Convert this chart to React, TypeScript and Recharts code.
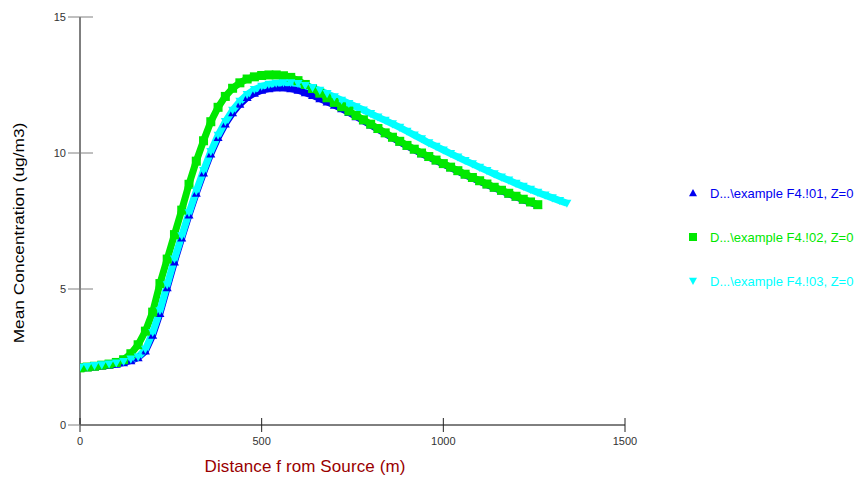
import { LineChart, Line, XAxis, YAxis } from 'recharts';

// distance from source (m), 20 m steps
const distances = [
  0, 20, 40, 60, 80, 100, 120, 140, 160, 180, 200, 220, 240, 260, 280, 300, 320, 340, 360, 380,
  400, 420, 440, 460, 480, 500, 520, 540, 560, 580, 600, 620, 640, 660, 680, 700, 720, 740, 760, 780,
  800, 820, 840, 860, 880, 900, 920, 940, 960, 980, 1000, 1020, 1040, 1060, 1080, 1100, 1120, 1140, 1160, 1180,
  1200, 1220, 1240, 1260, 1280, 1300, 1320, 1340,
];

const run01 = [
  2.08, 2.11, 2.14, 2.17, 2.2, 2.24, 2.29, 2.37, 2.48, 2.72, 3.3, 4.1, 5.05, 6.0, 6.88, 7.72, 8.52, 9.27, 9.97, 10.57,
  11.07, 11.48, 11.8, 12.04, 12.2, 12.31, 12.37, 12.4, 12.4, 12.37, 12.31, 12.22, 12.12, 12.0, 11.88, 11.76, 11.63, 11.49, 11.34, 11.19,
  11.03, 10.87, 10.72, 10.56, 10.41, 10.26, 10.12, 9.98, 9.85, 9.72, 9.59, 9.46, 9.33, 9.2, 9.08, 8.96, 8.84, 8.72, 8.61, 8.5,
  8.39, 8.28, 8.18, 8.08,
];

const run02 = [
  2.1, 2.13, 2.16, 2.2, 2.24, 2.3, 2.4, 2.62, 2.95, 3.45, 4.15, 5.2, 6.1, 7.0, 7.9, 8.85, 9.7, 10.45, 11.15, 11.68,
  12.08, 12.38, 12.58, 12.72, 12.8, 12.85, 12.87, 12.87, 12.84, 12.78, 12.66, 12.52, 12.37, 12.2, 12.03, 11.86, 11.7, 11.54, 11.38, 11.22,
  11.06, 10.9, 10.74, 10.58, 10.43, 10.28, 10.14, 10.0, 9.87, 9.74, 9.61, 9.48, 9.35, 9.22, 9.1, 8.98, 8.86, 8.74, 8.63, 8.52,
  8.41, 8.3, 8.2, 8.1,
];

const run03 = [
  2.12, 2.15, 2.18, 2.21, 2.24, 2.28, 2.33, 2.42, 2.5, 2.78, 3.4, 4.2, 5.15, 6.1, 6.95, 7.8, 8.6, 9.35, 10.05, 10.65,
  11.15, 11.57, 11.9, 12.15, 12.33, 12.45, 12.52, 12.56, 12.58, 12.58, 12.55, 12.48, 12.4, 12.3, 12.18, 12.06, 11.94, 11.82, 11.7, 11.58,
  11.45, 11.32, 11.2, 11.07, 10.94, 10.8, 10.66, 10.52, 10.37, 10.24, 10.11, 9.98, 9.85, 9.72, 9.6, 9.47, 9.35, 9.23, 9.11, 9.0,
  8.88, 8.77, 8.66, 8.55, 8.45, 8.35, 8.25, 8.15,
];

const xTicks = [0, 500, 1000, 1500];
const yTicks = [0, 5, 10, 15];

const seriesNames = [
  'D...\\example F4.!01, Z=0',
  'D...\\example F4.!02, Z=0',
  'D...\\example F4.!03, Z=0',
];
const colors = ['#0000f0', '#00e800', '#00ffff'];
const shapes = ['up', 'square', 'down'];

const toPoints = (vals: number[]) => vals.map((y, i) => ({ x: distances[i], y }));

function marker(shape: string, cx: number, cy: number, s: number, fill: string) {
  if (shape === 'square') {
    return <rect x={cx - s} y={cy - s} width={s * 2} height={s * 2} fill={fill} />;
  }
  if (shape === 'up') {
    return <polygon points={`${cx},${cy - s} ${cx + s},${cy + s * 0.8} ${cx - s},${cy + s * 0.8}`} fill={fill} />;
  }
  return <polygon points={`${cx},${cy + s} ${cx + s},${cy - s * 0.8} ${cx - s},${cy - s * 0.8}`} fill={fill} />;
}

const makeDot = (shape: string, fill: string) => (p: any) => {
  const { cx, cy, index } = p;
  if (cx == null || cy == null) return <g key={index} />;
  return <g key={index}>{marker(shape, cx, cy, 4.5, fill)}</g>;
};

function YTick({ x, y, payload }: any) {
  return (
    <g>
      <line x1={x - 12} x2={x + 13} y1={y} y2={y} stroke="#808080" />
      <text x={x - 14} y={y} dy={4} textAnchor="end" fontSize={11} fill="#333">
        {payload.value}
      </text>
    </g>
  );
}

function XTick({ x, y, payload }: any) {
  return (
    <g>
      <line x1={x} x2={x} y1={y - 7} y2={y + 7} stroke="#222" />
      <text x={x} y={y + 20} textAnchor="middle" fontSize={11} fill="#333">
        {payload.value}
      </text>
    </g>
  );
}

function LegendBox() {
  return (
    <svg width={177} height={110} style={{ display: 'block' }}>
      {seriesNames.map((name, i) => (
        <g key={name}>
          {marker(shapes[i], 13, 8 + i * 44, 4, colors[i])}
          <text x={30} y={12.5 + i * 44} fontSize={13} fill={colors[i]}>
            {name}
          </text>
        </g>
      ))}
    </svg>
  );
}

export default function App() {
  const data = [toPoints(run01), toPoints(run02), toPoints(run03)];
  return (
    <div style={{ position: 'absolute', left: 0, top: 0, width: 857, height: 479, background: '#fff', fontFamily: '"Liberation Sans", Arial, sans-serif' }}>
      <LineChart width={857} height={479} margin={{ top: 17, right: 232, bottom: 0, left: 0 }}>
        <XAxis
          type="number"
          dataKey="x"
          domain={[0, 1500]}
          ticks={xTicks}
          height={54}
          tickSize={0}
          tickMargin={0}
          tickLine={false}
          tick={<XTick />}
          axisLine={{ stroke: '#000' }}
          allowDataOverflow
        />
        <YAxis
          type="number"
          dataKey="y"
          domain={[0, 15]}
          ticks={yTicks}
          width={80}
          tickSize={0}
          tickMargin={0}
          tickLine={false}
          tick={<YTick />}
          axisLine={{ stroke: '#000' }}
        />
        {data.map((pts, i) => (
          <Line
            key={seriesNames[i]}
            data={pts}
            dataKey="y"
            name={seriesNames[i]}
            type="linear"
            stroke={colors[i]}
            strokeWidth={7}
            dot={makeDot(shapes[i], colors[i])}
            activeDot={false}
            isAnimationActive={false}
          />
        ))}
      </LineChart>
      <div style={{ position: 'absolute', left: 680, top: 185 }}>
        <LegendBox />
      </div>
      <div
        style={{
          position: 'absolute',
          left: 20,
          top: 233,
          transform: 'translate(-50%, -50%) rotate(-90deg) scaleX(1.02) scaleY(0.85)',
          whiteSpace: 'nowrap',
          fontSize: 17,
          color: '#000',
        }}
      >
        Mean Concentration (ug/m3)
      </div>
      <div
        style={{
          position: 'absolute',
          left: 305,
          top: 467,
          transform: 'translate(-50%, -50%)',
          whiteSpace: 'nowrap',
          fontSize: 17,
          letterSpacing: 0.1,
          color: '#990000',
        }}
      >
        Distance f rom Source (m)
      </div>
    </div>
  );
}
